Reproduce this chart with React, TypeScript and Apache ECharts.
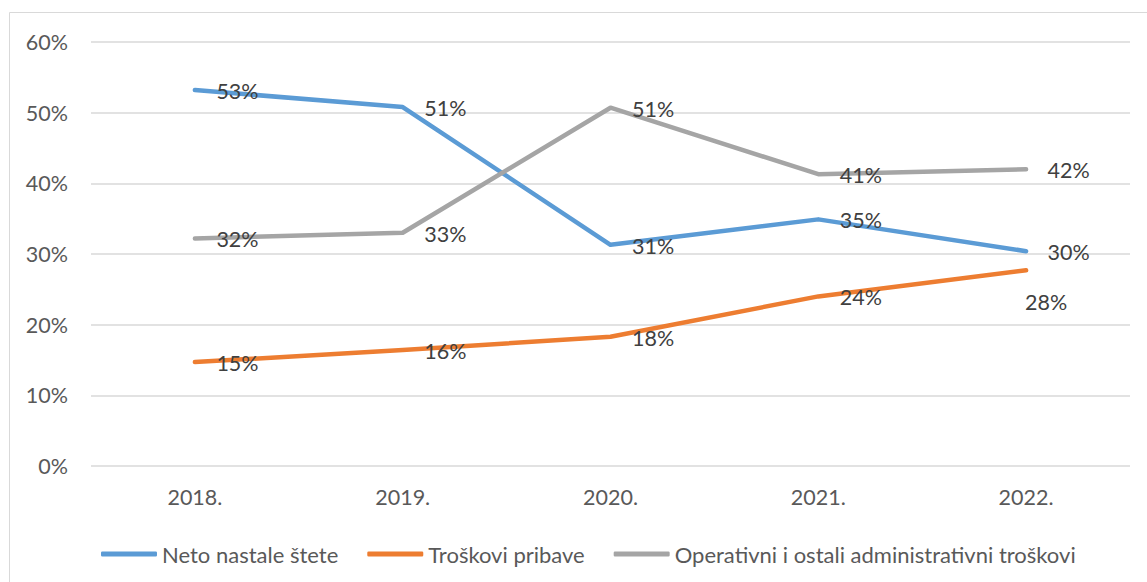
import React, { useEffect, useRef } from "react";
import * as echarts from "echarts";

const categories = ["2018.", "2019.", "2020.", "2021.", "2022."];
const netoNastaleStete = [53.2, 50.8, 31.3, 34.9, 30.4];
const troskoviPribave = [14.7, 16.4, 18.3, 24.0, 27.7];
const operativniTroskovi = [32.2, 33.0, 50.7, 41.3, 42.0];
const seriesNames = [
  "Neto nastale štete",
  "Troškovi pribave",
  "Operativni i ostali administrativni troškovi",
];
const colors = ["#5B9BD5", "#ED7D31", "#A5A5A5"];

const FONT = "Lato, 'Open Sans', sans-serif";

export default function App() {
  const ref = useRef<HTMLDivElement>(null);
  useEffect(() => {
    document.body.style.margin = "0";
    const chart = echarts.init(ref.current!, null, { renderer: "svg" });
    const labelBase = {
      show: true,
      position: "right" as const,
      distance: 20,
      offset: [0, 1],
      color: "#404040",
      fontSize: 21.5,
      fontFamily: FONT,
      formatter: (p: any) => Math.round(p.value) + "%",
    };
    const mk = (name: string, data: any[], color: string) => ({
      name,
      type: "line",
      data,
      symbol: "circle",
      symbolSize: 3,
      itemStyle: { color },
      lineStyle: { color, width: 4.5, cap: "round", join: "round" },
      label: labelBase,
      emphasis: { disabled: true },
    });
    const orangeData = troskoviPribave.map((v, i) =>
      i === troskoviPribave.length - 1
        ? { value: v, label: { position: "bottom", distance: 19, offset: [20, 0] } }
        : v
    );
    chart.setOption({
      animation: false,
      textStyle: { fontFamily: FONT },
      graphic: [
        {
          type: "rect",
          shape: { x: 9.5, y: 12.5, width: 1300, height: 700 },
          style: { fill: "none", stroke: "#D9D9D9", lineWidth: 1 },
          silent: true,
        },
      ],
      grid: { left: 91, right: 17, top: 42, bottom: 116, containLabel: false },
      legend: {
        left: 96,
        top: 538,
        icon: "roundRect",
        itemWidth: 56,
        itemHeight: 5,
        itemGap: 29,
        textStyle: { color: "#595959", fontSize: 22, fontFamily: FONT },
        data: seriesNames,
      },
      xAxis: {
        type: "category",
        data: categories,
        boundaryGap: true,
        axisLine: { show: false },
        axisTick: { show: false },
        axisLabel: { color: "#595959", fontSize: 21.5, fontFamily: FONT, margin: 20 },
      },
      yAxis: {
        type: "value",
        min: 0,
        max: 60,
        interval: 10,
        axisLine: { show: false },
        axisTick: { show: false },
        splitLine: { lineStyle: { color: "#D9D9D9", width: 1.5 } },
        axisLabel: {
          color: "#595959",
          fontSize: 21.5,
          fontFamily: FONT,
          margin: 23,
          formatter: (v: number) => v + "%",
        },
      },
      series: [
        mk(seriesNames[0], netoNastaleStete, colors[0]),
        mk(seriesNames[1], orangeData, colors[1]),
        mk(seriesNames[2], operativniTroskovi, colors[2]),
      ],
    });
    return () => chart.dispose();
  }, []);
  return <div ref={ref} style={{ width: 1147, height: 582 }} />;
}
